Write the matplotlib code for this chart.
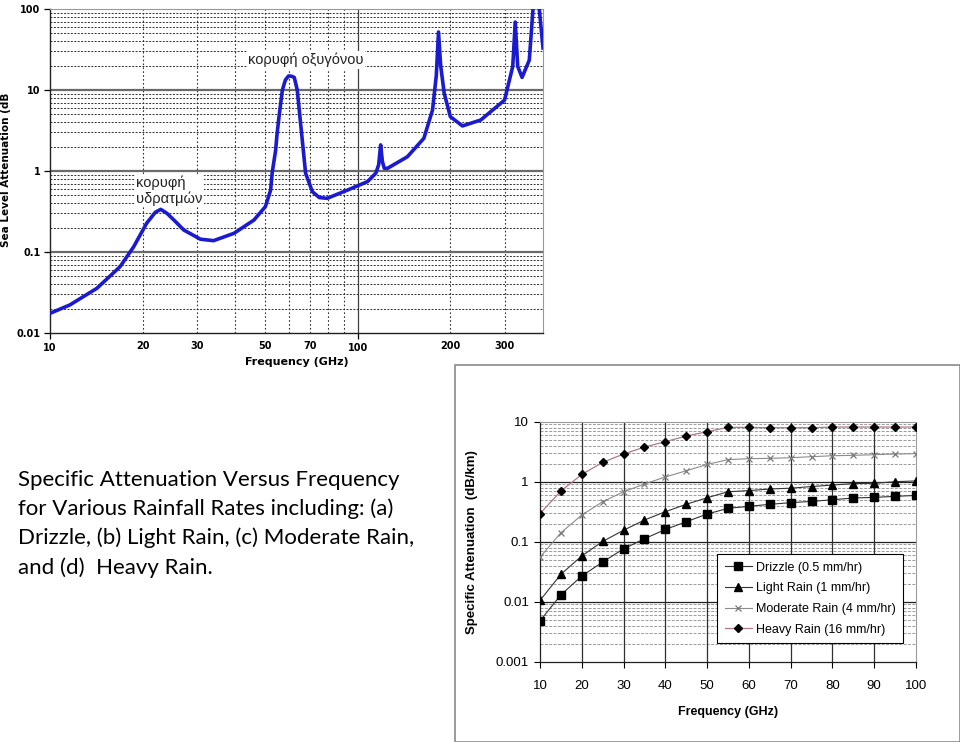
import matplotlib
matplotlib.use('Agg')
import matplotlib.pyplot as plt
from matplotlib.patches import Rectangle
from matplotlib.ticker import FixedLocator, FixedFormatter, NullFormatter

# ---------------- data: sea-level atmospheric attenuation ----------------
atm_freq = [10, 11.6, 14.2, 16.9, 18.7, 20.6, 22.0, 22.9, 24.0, 25.5, 27.2, 30.8, 34, 39.6,
            46, 50.1, 52.1, 52.7, 54.1, 54.7, 55.5, 56.9, 58.2, 59.6, 60.9, 62.2, 63.6,
            65.2, 67.7, 71.2, 75, 79.6, 92.5, 107.6, 114.5, 117, 118.7, 120.3, 122, 125,
            145, 164, 175, 180, 183, 186, 191, 200, 219, 251, 300, 319, 325, 331, 342,
            361, 371, 380, 389, 400]
atm_att = [0.0175, 0.0222, 0.0356, 0.066, 0.116, 0.226, 0.31, 0.336, 0.30, 0.24, 0.187,
           0.144, 0.138, 0.17, 0.248, 0.363, 0.58, 0.94, 1.8, 2.9, 4.7, 10, 13.3, 14.9,
           14.8, 14.3, 10, 3.9, 0.94, 0.556, 0.47, 0.46, 0.58, 0.74, 0.94, 1.2, 2.1, 1.3,
           1.08, 1.08, 1.5, 2.53, 5.66, 15, 52, 20, 9.1, 4.68, 3.6, 4.26, 7.5, 19.6, 69,
           19.6, 14.3, 23.4, 98, 300, 100, 33]

atm_ylabels = ['0.01', '0.1', '1', '10', '100']

# ---------------- data: rain attenuation ----------------
rain_freq = [10, 15, 20, 25, 30, 35, 40, 45, 50, 55, 60, 65, 70, 75, 80, 85, 90, 95, 100]
drizzle = [0.0048, 0.013, 0.0268, 0.0458, 0.076, 0.112, 0.16, 0.215, 0.289, 0.36, 0.388,
           0.42, 0.447, 0.47, 0.50, 0.535, 0.548, 0.57, 0.59]
light = [0.0105, 0.0286, 0.058, 0.101, 0.155, 0.23, 0.316, 0.42, 0.54, 0.68, 0.71, 0.755,
         0.78, 0.83, 0.88, 0.93, 0.94, 1.0, 1.03]
moderate = [0.055, 0.141, 0.278, 0.464, 0.68, 0.914, 1.2, 1.52, 1.94, 2.33, 2.42, 2.45,
            2.51, 2.61, 2.71, 2.75, 2.82, 2.89, 2.93]
heavy = [0.293, 0.70, 1.32, 2.1, 2.89, 3.78, 4.64, 5.77, 6.81, 8.05, 8.05, 7.94, 7.94,
         7.94, 8.15, 8.15, 8.15, 8.15, 8.15]
rain_labels = ['Drizzle (0.5 mm/hr)', 'Light Rain (1 mm/hr)',
               'Moderate Rain (4 mm/hr)', 'Heavy Rain (16 mm/hr)']
rain_ylabels = ['0.001', '0.01', '0.1', '1', '10']

caption = ("Specific Attenuation Versus Frequency\n"
           "for Various Rainfall Rates including: (a)\n"
           "Drizzle, (b) Light Rain, (c) Moderate Rain,\n"
           "and (d)  Heavy Rain.")

W, H = 960, 742
fig = plt.figure(figsize=(W / 100, H / 100), dpi=100)
fig.patch.set_facecolor('white')
ARIAL = ['Liberation Sans', 'DejaVu Sans']

def ax_rect(l, t, r, b):
    return [l / W, 1 - b / H, (r - l) / W, (b - t) / H]

# ---------------- top chart ----------------
ax1 = fig.add_axes(ax_rect(50, 9, 543, 333))
ax1.set_xscale('log')
ax1.set_yscale('log')
ax1.set_xlim(10, 400)
ax1.set_ylim(0.01, 100)

ax1.xaxis.set_major_locator(FixedLocator([10, 100]))
ax1.xaxis.set_major_formatter(FixedFormatter(['10', '100']))
minor_x = [20, 30, 40, 50, 60, 70, 80, 90, 200, 300]
ax1.xaxis.set_minor_locator(FixedLocator(minor_x))
ax1.xaxis.set_minor_formatter(FixedFormatter(['20', '30', '', '50', '', '70', '', '', '200', '300']))
ax1.yaxis.set_major_locator(FixedLocator([0.01, 0.1, 1, 10, 100]))
ax1.yaxis.set_major_formatter(FixedFormatter(atm_ylabels))
minor_y = [m * d for d in (0.01, 0.1, 1, 10) for m in range(2, 10)]
ax1.yaxis.set_minor_locator(FixedLocator(minor_y))
ax1.yaxis.set_minor_formatter(NullFormatter())

ax1.grid(False)
for f in minor_x:
    ax1.axvline(f, color='#303030', lw=0.8, ls=(0, (1.5, 2)), zorder=1)
ax1.axvline(100, color='#404040', lw=0.9, zorder=1)
for v in minor_y:
    ax1.axhline(v, color='#303030', lw=0.7, ls=(0, (2, 1.5)), zorder=1)
for v in [0.1, 1, 10]:
    ax1.axhline(v, color='#6a6a6a', lw=1.6, zorder=1)

ax1.plot(atm_freq, atm_att, color='#1a1ad0', lw=2.6, solid_joinstyle='round', zorder=3)

for s in ['top', 'right']:
    ax1.spines[s].set_color('#999999')
    ax1.spines[s].set_linewidth(0.8)
for s in ['left', 'bottom']:
    ax1.spines[s].set_color('#202020')
    ax1.spines[s].set_linewidth(1.0)
ax1.tick_params(axis='both', which='major', length=4, width=0.9, direction='out',
                labelsize=7, pad=3)
ax1.tick_params(axis='x', which='minor', length=0, labelsize=7, pad=6)
ax1.tick_params(axis='x', which='major', pad=3)
ax1.tick_params(axis='y', which='minor', length=0)
for lab in ax1.get_xticklabels(which='both') + ax1.get_yticklabels():
    lab.set_fontweight('bold')
ax1.set_xlabel('Frequency (GHz)', fontsize=8, fontweight='bold', labelpad=3)
fig.text(6 / W, 1 - 170 / H, 'Sea Level Attenuation (dB', fontsize=7.5, fontweight='bold',
         rotation=90, ha='center', va='center')

ax1.text(44.0, 23.5, 'κορυφή οξυγόνου', fontsize=10.5, color='#222222',
         va='center', ha='left', family=ARIAL, zorder=4,
         bbox=dict(facecolor='white', edgecolor='none', pad=1.0))
ax1.text(19.1, 0.57, 'κορυφή\nυδρατμών', fontsize=10.5, color='#222222',
         va='center', ha='left', linespacing=1.05, family=ARIAL, zorder=4,
         bbox=dict(facecolor='white', edgecolor='none', pad=1.0))

# ---------------- caption ----------------
fig.text(18 / W, 1 - 470 / H, caption, fontsize=16.0, family=['Lato', 'DejaVu Sans'],
         va='top', ha='left', linespacing=1.52, color='black')

# ---------------- border of bottom picture ----------------
fig.patches.append(Rectangle((455 / W, 0.0), 1 - 455 / W, 1 - 365 / H,
                             transform=fig.transFigure, fill=False,
                             edgecolor='#8a8a8a', lw=1.2))

# ---------------- bottom chart ----------------
ax2 = fig.add_axes(ax_rect(540, 421.7, 916, 661.7))
ax2.set_yscale('log')
ax2.set_xlim(10, 100)
ax2.set_ylim(0.001, 10)
ax2.set_xticks(rain_freq[::2])
ax2.yaxis.set_major_locator(FixedLocator([0.001, 0.01, 0.1, 1, 10]))
ax2.yaxis.set_major_formatter(FixedFormatter(rain_ylabels))
minor_y2 = [m * d for d in (0.001, 0.01, 0.1, 1) for m in range(2, 10)]
ax2.yaxis.set_minor_locator(FixedLocator(minor_y2))
ax2.yaxis.set_minor_formatter(NullFormatter())
ax2.grid(False)
for v in minor_y2:
    ax2.axhline(v, color='#9a9a9a', lw=0.7, ls=(0, (3, 1.5)), zorder=1)
for v in [0.01, 0.1, 1]:
    ax2.axhline(v, color='#202020', lw=0.9, zorder=1)
for f in rain_freq[::2][1:-1]:
    ax2.axvline(f, color='#303030', lw=0.9, zorder=1)

h1, = ax2.plot(rain_freq, drizzle, color='#333333', lw=0.8, marker='s', ms=5.5,
               mfc='black', mec='black', zorder=3)
h2, = ax2.plot(rain_freq, light, color='#333333', lw=0.8, marker='^', ms=5.5,
               mfc='black', mec='black', zorder=3)
h3, = ax2.plot(rain_freq, moderate, color='#8c8c8c', lw=0.8, marker='x', ms=5,
               mec='#7a7a7a', mew=0.9, zorder=3)
h4, = ax2.plot(rain_freq, heavy, color='#b07888', lw=0.9, marker='D', ms=3.8,
               mfc='black', mec='black', zorder=3)

for s in ['top', 'right']:
    ax2.spines[s].set_color('#9a9a9a')
    ax2.spines[s].set_linewidth(0.8)
for s in ['left', 'bottom']:
    ax2.spines[s].set_color('#202020')
    ax2.spines[s].set_linewidth(0.9)
ax2.tick_params(axis='both', which='major', length=4, width=0.8, direction='out',
                labelsize=9.5, pad=4)
ax2.tick_params(axis='x', which='major', pad=9)
ax2.tick_params(axis='y', which='minor', length=0)
for lab in ax2.get_xticklabels() + ax2.get_yticklabels():
    lab.set_family(ARIAL)
ax2.set_xlabel('Frequency (GHz)', fontsize=9, fontweight='bold', family=ARIAL, labelpad=10)
ax2.set_ylabel('Specific Attenuation  (dB/km)', fontsize=9.5, fontweight='bold',
               family=ARIAL, labelpad=13)

leg = ax2.legend([h1, h2, h3, h4], rain_labels, loc='upper left',
                 bbox_to_anchor=((717 - 540) / 376, (661.7 - 554) / 240),
                 borderaxespad=0.0, frameon=True, fancybox=False, borderpad=0.6,
                 labelspacing=0.7, handlelength=2.2, handletextpad=0.3,
                 prop={'family': ARIAL, 'size': 9})
leg.get_frame().set_edgecolor('black')
leg.get_frame().set_linewidth(0.8)
leg.get_frame().set_alpha(1.0)
leg.set_zorder(5)

fig.savefig('out.png', dpi=100, facecolor='white')
